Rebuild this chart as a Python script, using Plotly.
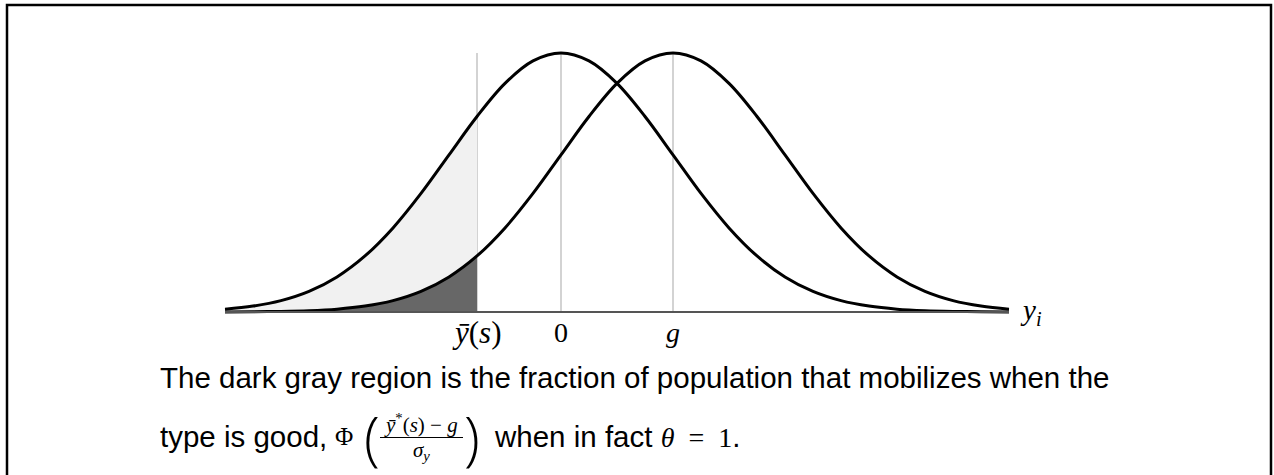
import plotly.graph_objects as go

# y_i grid (sigma_y = 1) and the two densities
y_grid = [-3.0, -2.75, -2.5, -2.25, -2.0, -1.75, -1.5, -1.25, -1.0, -0.75,
          -0.5, -0.25, 0.0, 0.25, 0.5, 0.75, 1.0, 1.25, 1.5, 1.75,
          2.0, 2.25, 2.5, 2.75, 3.0, 3.25, 3.5, 3.75, 4.0]

# density centred at 0
density_bad = [0.0044, 0.0091, 0.0175, 0.0317, 0.0540, 0.0863, 0.1295, 0.1826, 0.2420, 0.3011,
               0.3521, 0.3867, 0.3989, 0.3867, 0.3521, 0.3011, 0.2420, 0.1826, 0.1295, 0.0863,
               0.0540, 0.0317, 0.0175, 0.0091, 0.0044, 0.0020, 0.0009, 0.0004, 0.0001]

# density centred at g
density_good = [0.0001, 0.0004, 0.0009, 0.0020, 0.0044, 0.0091, 0.0175, 0.0317, 0.0540, 0.0863,
                0.1295, 0.1826, 0.2420, 0.3011, 0.3521, 0.3867, 0.3989, 0.3867, 0.3521, 0.3011,
                0.2420, 0.1826, 0.1295, 0.0863, 0.0540, 0.0317, 0.0175, 0.0091, 0.0044]

y_bar = -0.75
g = 1.0
marker_positions = [y_bar, 0.0, g]
marker_labels = ["<i>ȳ</i>(<i>s</i>)", "0", "<i>g</i>"]

caption_line1 = "The dark gray region is the fraction of population that mobilizes when the"
caption_line2a = "type is good,"
caption_line2b = "when in fact"

W, H = 1274, 475
SERIF = "Liberation Serif"
SANS = "Liberation Sans"


def px(x):
    return x / W


def py(y):
    return 1 - y / H


n_shade = sum(1 for v in y_grid if v <= y_bar)

fig = go.Figure()

# shaded regions
fig.add_trace(go.Scatter(
    x=y_grid[:n_shade], y=density_bad[:n_shade],
    mode="lines", line=dict(width=0, shape="spline"),
    fill="tozeroy", fillcolor="#f1f1f1", hoverinfo="skip"
))
fig.add_trace(go.Scatter(
    x=y_grid[:n_shade], y=density_good[:n_shade],
    mode="lines", line=dict(width=0, shape="spline"),
    fill="tozeroy", fillcolor="#676767", hoverinfo="skip"
))

# vertical guides
peak = max(density_bad)
for xv in marker_positions:
    fig.add_shape(type="line", x0=xv, x1=xv, y0=0, y1=peak,
                  line=dict(color="#c4c4c4", width=1.5), layer="below")

# horizontal axis
fig.add_shape(type="line", x0=y_grid[0], x1=y_grid[-1], y0=0, y1=0,
              line=dict(color="#555555", width=2))

# curves
for dens in (density_bad, density_good):
    fig.add_trace(go.Scatter(
        x=y_grid, y=dens, mode="lines",
        line=dict(color="black", width=3, shape="spline"),
        hoverinfo="skip"
    ))

# axis labels
label_sizes = [31, 28, 28]
for xv, lab, sz in zip(marker_positions, marker_labels, label_sizes):
    fig.add_annotation(x=xv, y=-0.032, text=lab, showarrow=False,
                       xanchor="center", yanchor="middle",
                       font=dict(family=SERIF, size=sz, color="black"))

fig.add_annotation(x=y_grid[-1] + 0.2, y=0.0, text="<i>y</i><sub><i>i</i></sub>",
                   showarrow=False, xanchor="center", yanchor="middle",
                   font=dict(family=SERIF, size=29, color="black"))

# caption
CAP = 29.5
fig.add_annotation(x=px(158), y=py(377), xref="paper", yref="paper",
                   text=caption_line1, showarrow=False,
                   xanchor="left", yanchor="middle",
                   font=dict(family=SANS, size=CAP, color="black"))
fig.add_annotation(x=px(158), y=py(436), xref="paper", yref="paper",
                   text=caption_line2a, showarrow=False,
                   xanchor="left", yanchor="middle",
                   font=dict(family=SANS, size=CAP, color="black"))
fig.add_annotation(x=px(333), y=py(436), xref="paper", yref="paper",
                   text="Φ", showarrow=False, xanchor="left", yanchor="middle",
                   font=dict(family=SERIF, size=25, color="black"))
# big parentheses
fig.add_annotation(x=px(372), y=py(436), xref="paper", yref="paper",
                   text="(", showarrow=False, xanchor="center", yanchor="middle",
                   font=dict(family="Open Sans", size=58, color="black", weight=300))
fig.add_annotation(x=px(472), y=py(436), xref="paper", yref="paper",
                   text=")", showarrow=False, xanchor="center", yanchor="middle",
                   font=dict(family="Open Sans", size=58, color="black", weight=300))
# fraction
fig.add_annotation(x=px(421.5), y=py(423), xref="paper", yref="paper",
                   text="<i>ȳ</i><sup>*</sup>(<i>s</i>) − <i>g</i>", showarrow=False,
                   xanchor="center", yanchor="middle",
                   font=dict(family=SERIF, size=21, color="black"))
fig.add_shape(type="line", xref="paper", yref="paper",
              x0=px(380), x1=px(463), y0=py(437.5), y1=py(437.5),
              line=dict(color="black", width=1))
fig.add_annotation(x=px(421.5), y=py(451), xref="paper", yref="paper",
                   text="<i>σ</i><sub><i>y</i></sub>", showarrow=False,
                   xanchor="center", yanchor="middle",
                   font=dict(family=SERIF, size=21, color="black"))
fig.add_annotation(x=px(492), y=py(436), xref="paper", yref="paper",
                   text=caption_line2b
                   + ' <span style="font-family:Liberation Serif;font-size:28px">'
                   + '<i>θ</i>\u2002=\u20021</span>.',
                   showarrow=False, xanchor="left", yanchor="middle",
                   font=dict(family=SANS, size=CAP, color="black"))

# frame
fig.add_shape(type="rect", xref="paper", yref="paper",
              x0=px(7), x1=px(1271), y0=py(5), y1=py(H + 10),
              line=dict(color="black", width=2.5))

fig.update_layout(
    width=W, height=H,
    margin=dict(l=0, r=0, t=0, b=0),
    paper_bgcolor="white", plot_bgcolor="white",
    showlegend=False,
    xaxis=dict(range=[-561 / 112, 713 / 112], visible=False, fixedrange=True),
    yaxis=dict(range=[-163 / 649.3, 312 / 649.3], visible=False, fixedrange=True),
)

fig.write_html("out.html", config={"displayModeBar": False},
               post_script="document.body.style.margin='0';")
